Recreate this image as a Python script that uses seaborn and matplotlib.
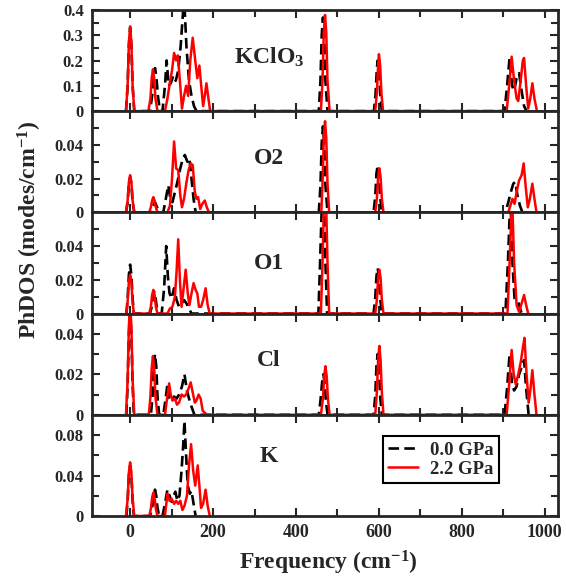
import matplotlib
matplotlib.use("Agg")
import matplotlib.pyplot as plt
import seaborn as sns
from matplotlib.ticker import FixedLocator, FixedFormatter, MultipleLocator

# Puntos: (frecuencia cm-1, PhDOS)
kclo3_p00 = [(-10, 0), (-6, 0.1), (-3, 0.26), (0, 0.33), (3, 0.26), (6, 0.1), (10, 0),
             (48, 0), (53, 0.06), (57, 0.14), (60, 0.17), (63, 0.14), (67, 0.06), (72, 0),
             (78, 0), (84, 0.1), (88, 0.2), (93, 0.1), (98, 0.11), (104, 0.14), (110, 0.12),
             (116, 0.16), (122, 0.26), (128, 0.40), (131, 0.42), (136, 0.25), (142, 0.12),
             (148, 0.06), (154, 0.02), (160, 0),
             (455, 0), (459, 0.12), (462, 0.3), (465, 0.37), (468, 0.3), (471, 0.12), (476, 0),
             (588, 0), (592, 0.07), (595, 0.17), (597, 0.2), (600, 0.17), (603, 0.07), (607, 0),
             (903, 0), (909, 0.1), (915, 0.21), (921, 0.1), (926, 0.08), (932, 0.13),
             (938, 0.15), (944, 0.08), (950, 0.02), (956, 0)]
kclo3_p22 = [(-10, 0), (-6, 0.1), (-3, 0.27), (0, 0.335), (3, 0.27), (6, 0.1), (10, 0),
             (44, 0), (49, 0.05), (52, 0.13), (55, 0.165), (58, 0.13), (61, 0.05), (66, 0),
             (84, 0), (90, 0.05), (96, 0.115), (101, 0.16), (106, 0.23), (111, 0.2), (115, 0.22),
             (120, 0.12), (125, 0.01), (130, 0.06), (135, 0.1), (140, 0.06), (145, 0.2),
             (151, 0.29), (157, 0.2), (162, 0.13), (167, 0.18), (172, 0.09), (176, 0.02),
             (180, 0.06), (184, 0.11), (188, 0.06), (193, 0),
             (460, 0), (464, 0.12), (467, 0.31), (470, 0.38), (473, 0.31), (476, 0.12), (481, 0),
             (591, 0), (595, 0.07), (598, 0.18), (600, 0.225), (603, 0.18), (606, 0.07), (610, 0),
             (908, 0), (914, 0.1), (920, 0.215), (926, 0.12), (932, 0.05), (936, 0.04),
             (941, 0.11), (947, 0.2), (950, 0.21), (955, 0.1), (960, 0.01), (965, 0.05),
             (970, 0.11), (975, 0.05), (981, 0)]

o2_p00 = [(-10, 0), (-6, 0.006), (-3, 0.017), (0, 0.021), (3, 0.017), (6, 0.006), (10, 0),
          (50, 0), (56, 0.004), (60, 0.006), (65, 0.003), (70, 0),
          (80, 0), (86, 0.008), (92, 0.016), (97, 0.008), (102, 0.006), (108, 0.012),
          (114, 0.018), (120, 0.025), (126, 0.031), (132, 0.034), (138, 0.03), (143, 0.032),
          (148, 0.02), (153, 0.008), (158, 0),
          (455, 0), (459, 0.016), (462, 0.041), (465, 0.051), (468, 0.041), (471, 0.016), (476, 0),
          (587, 0), (591, 0.009), (594, 0.023), (597, 0.028), (600, 0.023), (603, 0.009), (607, 0),
          (905, 0), (912, 0.006), (918, 0.012), (924, 0.017), (929, 0.018), (934, 0.01),
          (940, 0.004), (946, 0)]
o2_p22 = [(-10, 0), (-6, 0.007), (-3, 0.018), (0, 0.022), (3, 0.018), (6, 0.007), (10, 0),
          (46, 0), (50, 0.003), (53, 0.007), (56, 0.009), (59, 0.007), (62, 0.003), (66, 0),
          (90, 0), (96, 0.004), (101, 0.02), (106, 0.042), (111, 0.026), (116, 0.025),
          (121, 0.01), (125, 0.003), (130, 0.008), (136, 0.018), (141, 0.025), (146, 0.029),
          (151, 0.028), (156, 0.012), (160, 0.008), (164, 0.009), (169, 0.002), (174, 0.005),
          (180, 0.007), (185, 0.003), (190, 0),
          (461, 0), (464, 0.017), (467, 0.044), (470, 0.054), (473, 0.044), (476, 0.017), (480, 0),
          (591, 0), (595, 0.008), (598, 0.021), (601, 0.026), (604, 0.021), (607, 0.008), (611, 0),
          (912, 0), (917, 0.004), (922, 0.008), (927, 0.005), (932, 0.012), (938, 0.019),
          (944, 0.022), (949, 0.029), (954, 0.015), (959, 0.003), (964, 0.008), (970, 0.017),
          (975, 0.008), (980, 0)]

o1_p00 = [(-9, 0), (-6, 0.009), (-3, 0.023), (0, 0.029), (3, 0.023), (6, 0.009), (9, 0),
          (48, 0), (52, 0.004), (55, 0.01), (58, 0.013), (61, 0.01), (64, 0.004), (70, 0),
          (76, 0), (82, 0.015), (87, 0.04), (91, 0.022), (95, 0.012), (100, 0.009),
          (106, 0.015), (112, 0.008), (118, 0.004), (124, 0.006), (130, 0.008), (136, 0.006),
          (142, 0.003), (148, 0),
          (454, 0), (458, 0.03), (462, 0.062), (465, 0.07), (468, 0.062), (471, 0.03), (475, 0),
          (587, 0), (591, 0.009), (594, 0.022), (597, 0.027), (600, 0.022), (603, 0.009), (607, 0),
          (905, 0), (911, 0.03), (917, 0.07), (922, 0.03), (927, 0.009), (932, 0.008),
          (937, 0.006), (944, 0)]
o1_p22 = [(-9, 0), (-6, 0.007), (-3, 0.019), (0, 0.023), (3, 0.019), (6, 0.007), (9, 0),
          (46, 0), (50, 0.004), (53, 0.011), (56, 0.014), (59, 0.011), (62, 0.004), (66, 0),
          (90, 0), (96, 0.003), (102, 0.004), (108, 0.01), (112, 0.025), (116, 0.044),
          (120, 0.02), (124, 0.004), (129, 0.015), (134, 0.026), (139, 0.012), (143, 0.005),
          (148, 0.012), (153, 0.018), (158, 0.014), (162, 0.012), (166, 0.004), (171, 0.004),
          (176, 0.008), (182, 0.015), (187, 0.005), (192, 0),
          (460, 0), (464, 0.03), (467, 0.062), (470, 0.07), (473, 0.062), (476, 0.03), (480, 0),
          (591, 0), (595, 0.008), (598, 0.021), (601, 0.026), (604, 0.021), (607, 0.008), (611, 0),
          (910, 0), (915, 0.03), (921, 0.07), (926, 0.03), (932, 0.005), (938, 0.001),
          (944, 0.006), (950, 0.011), (955, 0.005), (960, 0)]

cl_p00 = [(-9, 0), (-6, 0.015), (-3, 0.04), (0, 0.05), (3, 0.04), (6, 0.015), (9, 0),
          (50, 0), (54, 0.009), (57, 0.024), (60, 0.03), (63, 0.024), (66, 0.009), (70, 0),
          (80, 0), (85, 0.007), (90, 0.015), (95, 0.008), (100, 0.007), (106, 0.009),
          (112, 0.008), (118, 0.01), (125, 0.014), (131, 0.02), (137, 0.012), (142, 0.008),
          (148, 0.004), (155, 0),
          (455, 0), (459, 0.007), (463, 0.016), (466, 0.02), (469, 0.016), (472, 0.007), (476, 0),
          (587, 0), (591, 0.009), (594, 0.024), (597, 0.03), (600, 0.024), (603, 0.009), (607, 0),
          (903, 0), (909, 0.013), (915, 0.03), (921, 0.015), (926, 0.012), (932, 0.014),
          (938, 0.02), (945, 0.024), (950, 0.027), (955, 0.013), (961, 0)]
cl_p22 = [(-10, 0), (-6, 0.017), (-3, 0.044), (0, 0.055), (3, 0.044), (6, 0.017), (10, 0),
          (45, 0), (49, 0.009), (52, 0.023), (55, 0.029), (58, 0.023), (61, 0.009), (66, 0),
          (84, 0), (89, 0.008), (94, 0.0155), (98, 0.01), (102, 0.007), (108, 0.008),
          (113, 0.005), (118, 0.006), (124, 0.01), (130, 0.009), (135, 0.01), (141, 0.013),
          (146, 0.016), (151, 0.011), (156, 0.006), (160, 0.007), (165, 0.01), (170, 0.008),
          (175, 0.002), (180, 0.001), (186, 0),
          (460, 0), (465, 0.008), (468, 0.019), (471, 0.024), (474, 0.019), (477, 0.008), (481, 0),
          (591, 0), (595, 0.011), (598, 0.027), (601, 0.034), (604, 0.027), (607, 0.011), (611, 0),
          (908, 0), (914, 0.015), (920, 0.032), (925, 0.02), (930, 0.015), (936, 0.02),
          (942, 0.026), (947, 0.033), (951, 0.038), (956, 0.02), (961, 0.006), (965, 0.012),
          (970, 0.022), (975, 0.01), (980, 0)]

k_p00 = [(-9, 0), (-6, 0.015), (-3, 0.04), (0, 0.05), (3, 0.04), (6, 0.015), (9, 0),
         (48, 0), (53, 0.008), (57, 0.02), (60, 0.026), (63, 0.02), (66, 0.008), (70, 0),
         (78, 0), (84, 0.012), (90, 0.026), (95, 0.02), (100, 0.014), (105, 0.02),
         (109, 0.024), (114, 0.015), (119, 0.02), (124, 0.045), (128, 0.07), (131, 0.094),
         (135, 0.06), (139, 0.03), (144, 0.022), (148, 0.025), (153, 0.012), (158, 0)]
k_p22 = [(-10, 0), (-6, 0.017), (-3, 0.043), (0, 0.053), (3, 0.043), (6, 0.017), (10, 0),
         (46, 0), (50, 0.007), (53, 0.018), (56, 0.023), (59, 0.018), (62, 0.007), (66, 0),
         (84, 0), (90, 0.022), (95, 0.015), (100, 0.017), (106, 0.012), (111, 0.015),
         (116, 0.012), (121, 0.015), (126, 0.006), (131, 0.01), (137, 0.02), (142, 0.05),
         (147, 0.071), (152, 0.045), (157, 0.03), (163, 0.05), (167, 0.03), (171, 0.008),
         (176, 0.012), (182, 0.026), (187, 0.01), (192, 0)]

panel_names = ["KClO$_\\mathrm{3}$", "O2", "O1", "Cl", "K"]
panel_series = [(kclo3_p00, kclo3_p22), (o2_p00, o2_p22), (o1_p00, o1_p22),
                (cl_p00, cl_p22), (k_p00, k_p22)]
panel_ylim = [0.4, 0.06, 0.06, 0.05, 0.1]
panel_yticks = [[0, 0.1, 0.2, 0.3, 0.4], [0, 0.02, 0.04], [0, 0.02, 0.04],
                [0, 0.02, 0.04], [0, 0.04, 0.08]]
panel_yticklabels = [["0", "0.1", "0.2", "0.3", "0.4"], ["0", "0.02", "0.04"],
                     ["0", "0.02", "0.04"], ["0", "0.02", "0.04"], ["0", "0.04", "0.08"]]
panel_yminor = [0.05, 0.01, 0.01, 0.01, 0.02]
panel_label_y = [0.53, 0.53, 0.49, 0.54, 0.59]
series_labels = ["0.0 GPa", "2.2 GPa"]

sns.set_style("ticks")
plt.rcParams["font.family"] = ["Liberation Serif", "DejaVu Serif"]
plt.rcParams["font.weight"] = "bold"
plt.rcParams["axes.labelweight"] = "bold"
plt.rcParams["mathtext.fontset"] = "custom"
plt.rcParams["mathtext.rm"] = "Liberation Serif:bold"
plt.rcParams["mathtext.it"] = "Liberation Serif:bold:italic"
plt.rcParams["mathtext.bf"] = "Liberation Serif:bold"

fig, axes = plt.subplots(5, 1, sharex=True, figsize=(5.66, 5.82), dpi=100)
fig.subplots_adjust(left=0.1625, right=0.986, top=0.983, bottom=0.1134, hspace=0)

for i, ax in enumerate(axes):
    negro, rojo = panel_series[i]
    sns.lineplot(x=[p[0] for p in negro], y=[p[1] for p in negro], ax=ax, color="black",
                 linestyle=(0, (4, 2)), lw=1.9, sort=False, estimator=None,
                 label=series_labels[0] if i == 4 else None)
    sns.lineplot(x=[p[0] for p in rojo], y=[p[1] for p in rojo], ax=ax, color="red",
                 lw=1.8, sort=False, estimator=None,
                 label=series_labels[1] if i == 4 else None)
    ax.set_xlim(-92, 1032)
    ax.set_ylim(0, panel_ylim[i])
    ax.yaxis.set_major_locator(FixedLocator(panel_yticks[i]))
    ax.yaxis.set_major_formatter(FixedFormatter(panel_yticklabels[i]))
    ax.yaxis.set_minor_locator(MultipleLocator(panel_yminor[i]))
    ax.xaxis.set_major_locator(MultipleLocator(200))
    ax.xaxis.set_minor_locator(MultipleLocator(100))
    ax.tick_params(which="both", direction="in", top=True, right=True, width=1.5)
    ax.tick_params(which="major", length=5.5, pad=6)
    ax.tick_params(which="minor", length=5)
    ax.tick_params(axis="y", labelsize=12)
    ax.tick_params(axis="x", labelsize=13)
    for s in ax.spines.values():
        s.set_linewidth(2)
    ax.set_xlabel("")
    ax.set_ylabel("")
    ax.text(0.38, panel_label_y[i], panel_names[i], transform=ax.transAxes,
            ha="center", va="center", fontsize=17, fontweight="bold")
    if i < 4 and ax.get_legend() is not None:
        ax.get_legend().remove()

leg = axes[4].legend(loc="upper left", bbox_to_anchor=(0.624, 0.79), borderaxespad=0,
                     fontsize=13.5, fancybox=False, framealpha=1, edgecolor="black",
                     handlelength=1.6, handletextpad=0.6, borderpad=0.3, labelspacing=0.1)
leg.get_frame().set_linewidth(1.5)

fig.text(0.58, 0.033, "Frequency (cm$^{-1}$)", ha="center", va="center",
         fontsize=17, fontweight="bold")
fig.text(0.053, 0.605, "PhDOS (modes/cm$^{-1}$)", ha="center", va="center",
         rotation=90, fontsize=17, fontweight="bold")

plt.savefig("out.png", dpi=100)
plt.close()
